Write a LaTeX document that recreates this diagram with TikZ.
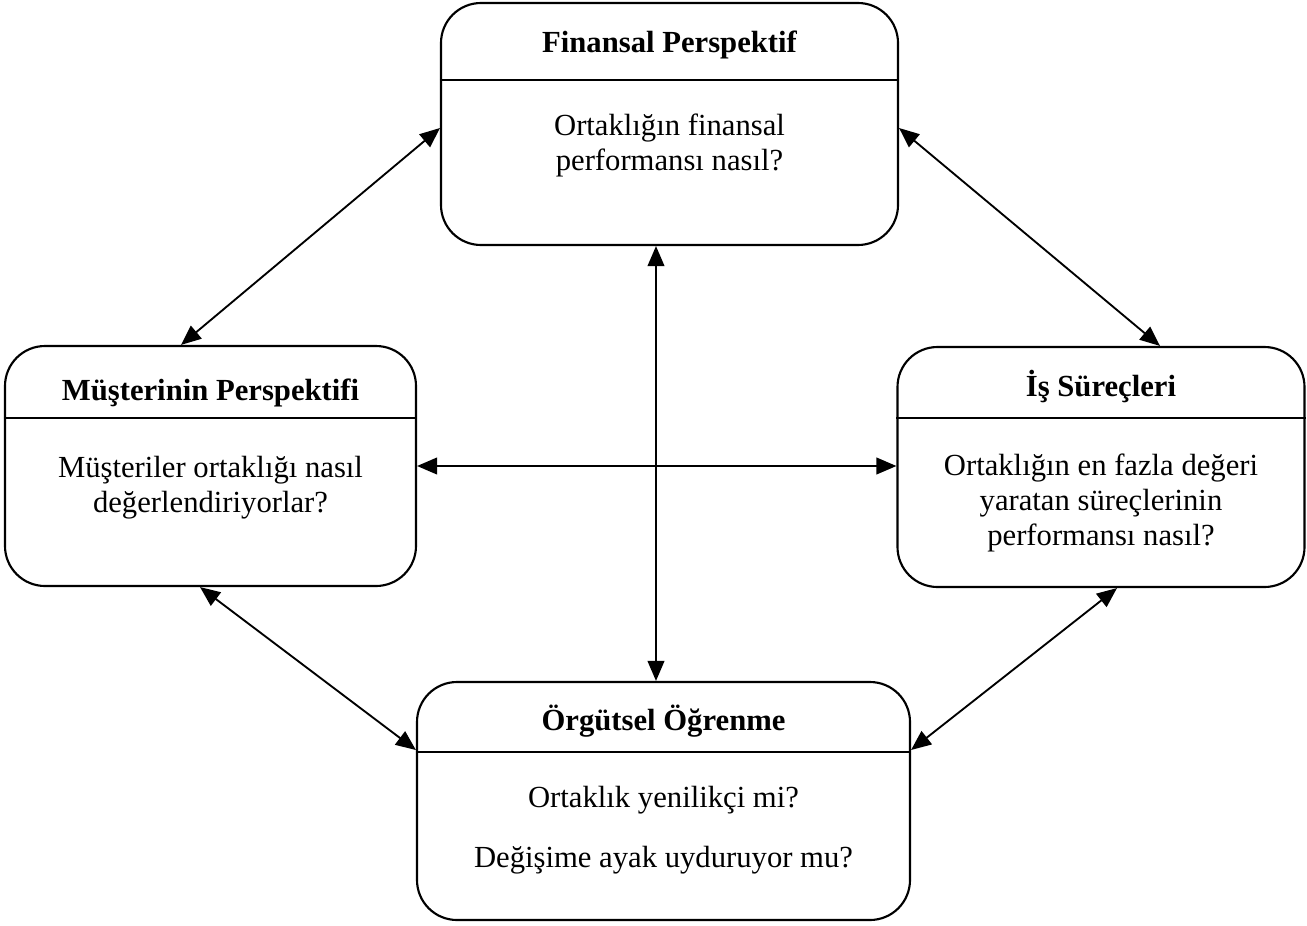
\documentclass[tikz,border=0pt]{standalone}
\usepackage{fontspec}
\setmainfont{Liberation Serif}
\usetikzlibrary{arrows.meta}
\begin{document}
\begin{tikzpicture}[x=0.75pt,y=-0.75pt,
  panel/.style n args={2}{draw, line width=1.6pt, rounded corners=30pt,
    minimum width={#1*0.75pt}, minimum height={#2*0.75pt}, inner sep=0pt},
  rule/.style={line width=1.5pt},
  title/.style={font=\fontsize{23}{26}\selectfont\bfseries, inner sep=0pt},
  body/.style={font=\fontsize{23}{26.5}\selectfont, align=center, inner sep=0pt},
  tip/.style={Triangle[length=15pt,width=12.5pt]},
  link/.style={line width=1.4pt, {Triangle[length=15pt,width=12.5pt]}-{Triangle[length=15pt,width=12.5pt]}}]
\useasboundingbox (0,0) rectangle (1307,925);

% the four perspective panels
\node[panel={457}{242}] (fin) at (669.5,124) {};
\node[panel={411}{240}] (cus) at (210.5,466) {};
\node[panel={407}{240}] (pro) at (1101,467) {};
\node[panel={493}{238}] (lrn) at (663.5,801) {};

% header rules
\draw[rule] (fin.west |- 0,80) -- (fin.east |- 0,80);
\draw[rule] (cus.west |- 0,418) -- (cus.east |- 0,418);
\draw[rule] (pro.west |- 0,418) -- (pro.east |- 0,418);
\draw[rule] (lrn.west |- 0,752) -- (lrn.east |- 0,752);

% headings
\node[title] (finT) at (669.5,45) {Finansal Perspektif};
\node[title] (cusT) at (210.5,393) {Müşterinin Perspektifi};
\node[title] (proT) at (1101,387) {İş Süreçleri};
\node[title] (lrnT) at (663.5,721) {Örgütsel Öğrenme};

% questions
\node[body] (finB) at (669.5,145.5) {Ortaklığın finansal\\performansı nasıl?};
\node[body] (cusB) at (210.5,487.5) {Müşteriler ortaklığı nasıl\\değerlendiriyorlar?};
\node[body] (proB) at (1101,503) {Ortaklığın en fazla değeri\\yaratan süreçlerinin\\performansı nasıl?};
\node[body] (lrnB1) at (663.5,800) {Ortaklık yenilikçi mi?};
\node[body] (lrnB2) at (663.5,860) {Değişime ayak uyduruyor mu?};

% two-way links between the perspectives
\draw[link] (fin.west |- 0,128) -- (cus.north -| 181,0);
\draw[link] (fin.east |- 0,128) -- (pro.north -| 1160,0);
\draw[link] (cus.south -| 200,0) -- (lrn.west |- 0,750);
\draw[link] (pro.south -| 1117,0) -- (lrn.east |- 0,750);
\draw[link] (fin.south -| 656,0) -- (lrn.north -| 656,0);
\draw[link] (cus.east |- 0,466) -- (pro.west |- 0,466);
\end{tikzpicture}
\end{document}
